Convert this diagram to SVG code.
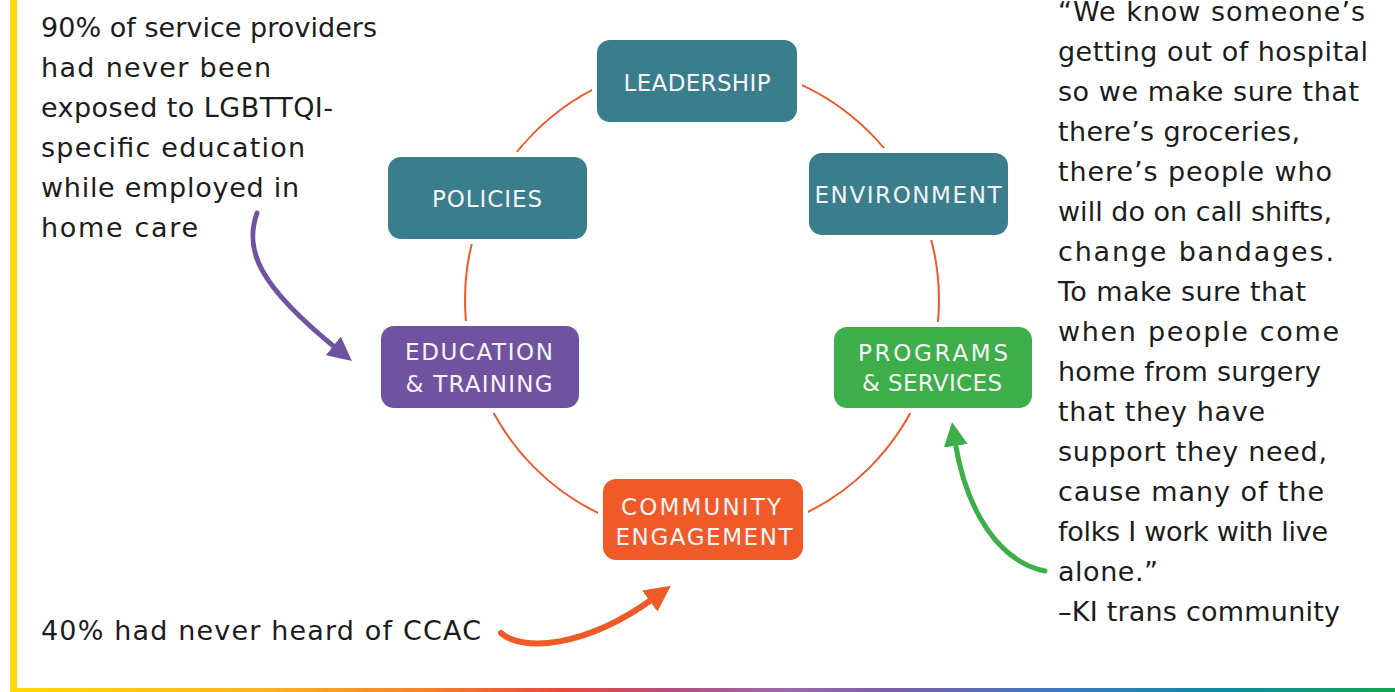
<svg xmlns="http://www.w3.org/2000/svg" width="1395" height="692" viewBox="0 0 1395 692">
  <style>
    .body { font-family: "DejaVu Sans", "Open Sans", sans-serif; font-size: 27px; fill: #1c1c1c; }
    .label { font-family: "DejaVu Sans", "Open Sans", sans-serif; font-size: 23px; fill: #f4f4f4; text-anchor: middle; }
    .box { stroke: #ffffff; stroke-width: 10; paint-order: stroke; }
    .teal { fill: #3a7d8c; }
    .purple { fill: #6f52a0; }
    .green { fill: #3dae4a; }
    .orange { fill: #ef5a28; }
    .ring { fill: none; stroke: #ee5a2c; stroke-width: 2; }
    .callout { fill: none; stroke-linecap: round; }
  </style>
  <defs>
    <linearGradient id="rainbow" x1="0" y1="0" x2="1" y2="0">
      <stop offset="0" stop-color="#ffd800"/>
      <stop offset="0.18" stop-color="#fbb41e"/>
      <stop offset="0.3" stop-color="#f5822a"/>
      <stop offset="0.4" stop-color="#e8483c"/>
      <stop offset="0.48" stop-color="#b24f7e"/>
      <stop offset="0.56" stop-color="#9a6aaa"/>
      <stop offset="0.64" stop-color="#7a5ea8"/>
      <stop offset="0.76" stop-color="#3a79c0"/>
      <stop offset="0.88" stop-color="#0d8ca0"/>
      <stop offset="1" stop-color="#10a550"/>
    </linearGradient>
    <marker id="headPurple" viewBox="0 0 10 10" refX="2" refY="5" markerWidth="24" markerHeight="24" markerUnits="userSpaceOnUse" orient="auto">
      <path d="M0,0 L10,5 L0,10 Z" fill="#6f52a0"/>
    </marker>
    <marker id="headOrange" viewBox="0 0 10 10" refX="2" refY="5" markerWidth="26" markerHeight="26" markerUnits="userSpaceOnUse" orient="auto">
      <path d="M0,0 L10,5 L0,10 Z" fill="#ef5a28"/>
    </marker>
    <marker id="headGreen" viewBox="0 0 10 10" refX="2" refY="5" markerWidth="24" markerHeight="24" markerUnits="userSpaceOnUse" orient="auto">
      <path d="M0,0 L10,5 L0,10 Z" fill="#3dae4a"/>
    </marker>
  </defs>

  <rect width="1395" height="692" fill="#ffffff"/>

  <!-- frame: yellow side bar and rainbow base line -->
  <rect x="10" y="0" width="7" height="692" fill="#ffd800"/>
  <rect x="10" y="688" width="1385" height="4" fill="url(#rainbow)"/>

  <!-- cycle ring and callout arrows -->
  <g id="connectors">
    <circle class="ring" cx="702" cy="300" r="237"/>
    <path class="callout" d="M257,213 C244,250 258,285 337,349" stroke="#6f52a0" stroke-width="5" marker-end="url(#headPurple)"/>
    <path class="callout" d="M501,633 C522,652 585,648 654,598" stroke="#ef5a28" stroke-width="6" marker-end="url(#headOrange)"/>
    <path class="callout" d="M1045,571 C1000,562 966,512 955,441" stroke="#3dae4a" stroke-width="5" marker-end="url(#headGreen)"/>
  </g>

  <g id="leadership">
    <rect class="box teal" x="597" y="40" width="200" height="82" rx="13"/>
    <text class="label" x="697" y="91" textLength="147">LEADERSHIP</text>
  </g>
  <g id="environment">
    <rect class="box teal" x="809" y="153" width="199" height="82" rx="13"/>
    <text class="label" x="908" y="203" textLength="187">ENVIRONMENT</text>
  </g>
  <g id="programs-services">
    <rect class="box green" x="834" y="327" width="198" height="81" rx="13"/>
    <text class="label" x="933" y="361" textLength="150">PROGRAMS</text>
    <text class="label" x="932" y="391" textLength="140">&amp; SERVICES</text>
  </g>
  <g id="community-engagement">
    <rect class="box orange" x="603" y="479" width="200" height="81" rx="13"/>
    <text class="label" x="701" y="515" textLength="160">COMMUNITY</text>
    <text class="label" x="704" y="545" textLength="177">ENGAGEMENT</text>
  </g>
  <g id="education-training">
    <rect class="box purple" x="381" y="326" width="198" height="82" rx="13"/>
    <text class="label" x="479" y="360" textLength="148">EDUCATION</text>
    <text class="label" x="479" y="392" textLength="147">&amp; TRAINING</text>
  </g>
  <g id="policies">
    <rect class="box teal" x="388" y="157" width="199" height="82" rx="13"/>
    <text class="label" x="487" y="207" textLength="110">POLICIES</text>
  </g>

  <!-- statistic notes -->
  <g id="note-education">
    <text class="body" x="41" y="37" textLength="336">90% of service providers</text>
    <text class="body" x="41" y="77" textLength="230">had never been</text>
    <text class="body" x="41" y="117" textLength="292">exposed to LGBTTQI-</text>
    <text class="body" x="41" y="157" textLength="264">specific education</text>
    <text class="body" x="41" y="197" textLength="258">while employed in</text>
    <text class="body" x="41" y="237" textLength="157">home care</text>
  </g>
  <g id="note-community">
    <text class="body" x="41" y="640" textLength="440">40% had never heard of CCAC</text>
  </g>

  <!-- quote -->
  <g id="quote">
    <text class="body" x="1058" y="21" textLength="307">“We know someone’s</text>
    <text class="body" x="1058" y="61" textLength="310">getting out of hospital</text>
    <text class="body" x="1058" y="101" textLength="301">so we make sure that</text>
    <text class="body" x="1058" y="141" textLength="242">there’s groceries,</text>
    <text class="body" x="1058" y="181" textLength="274">there’s people who</text>
    <text class="body" x="1058" y="221" textLength="274">will do on call shifts,</text>
    <text class="body" x="1058" y="261" textLength="276">change bandages.</text>
    <text class="body" x="1058" y="301" textLength="248">To make sure that</text>
    <text class="body" x="1058" y="341" textLength="281">when people come</text>
    <text class="body" x="1058" y="381" textLength="263">home from surgery</text>
    <text class="body" x="1058" y="421" textLength="207">that they have</text>
    <text class="body" x="1058" y="461" textLength="269">support they need,</text>
    <text class="body" x="1058" y="501" textLength="266">cause many of the</text>
    <text class="body" x="1058" y="541" textLength="270">folks I work with live</text>
    <text class="body" x="1058" y="581" textLength="100">alone.”</text>
    <text class="body" x="1058" y="621" textLength="282">–KI trans community</text>
  </g>
</svg>
